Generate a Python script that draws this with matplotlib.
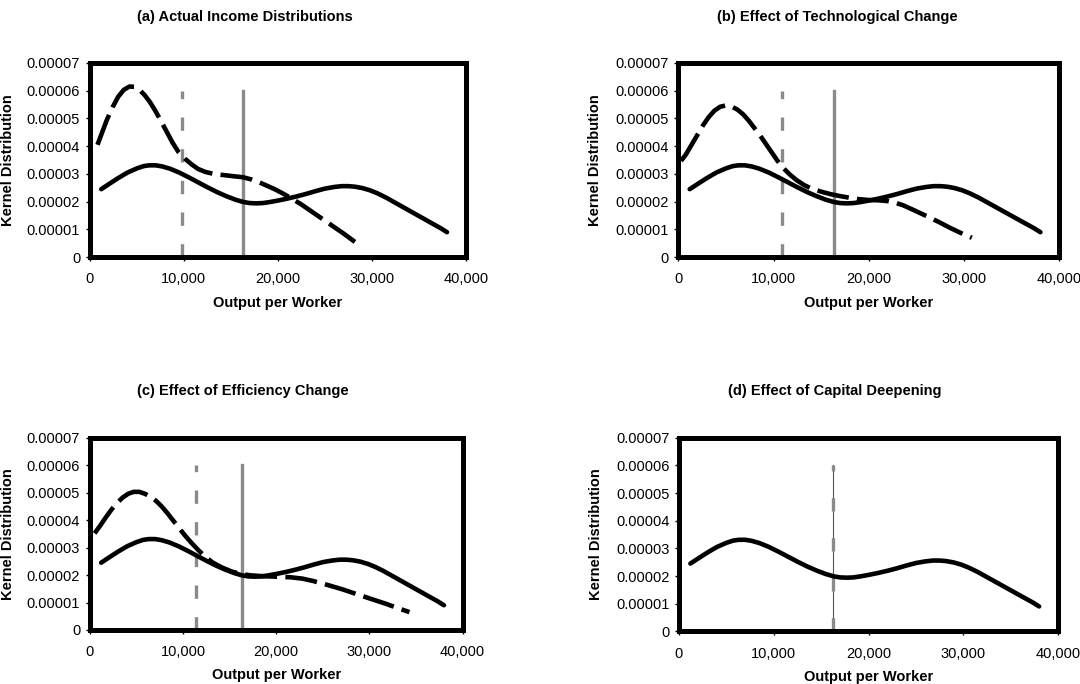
import numpy as np
import matplotlib.pyplot as plt
from matplotlib.ticker import FuncFormatter

plt.rcParams['font.family'] = ['Liberation Sans', 'DejaVu Sans']

# output per worker (thousands) and kernel density (x 1e-5)
final_x = [1.2, 2.0, 3.0, 4.0, 5.0, 5.7, 6.3, 7.0, 7.7, 8.5, 9.5, 10.5, 11.5, 12.5, 13.5,
           14.5, 15.5, 16.3, 17.0, 17.7, 18.4, 19.2, 20.0, 21.0, 22.0, 23.0, 24.0, 25.0,
           26.0, 26.8, 27.5, 28.2, 29.0, 29.8, 30.6, 31.5, 32.5, 33.5, 34.5, 35.5, 36.5,
           37.3, 38.0]
final_y = [2.45, 2.63, 2.85, 3.05, 3.20, 3.28, 3.31, 3.31, 3.27, 3.19, 3.05, 2.88, 2.70,
           2.52, 2.35, 2.20, 2.07, 1.99, 1.95, 1.94, 1.95, 1.99, 2.04, 2.11, 2.19, 2.28,
           2.38, 2.47, 2.53, 2.56, 2.56, 2.54, 2.49, 2.41, 2.30, 2.15, 1.96, 1.77, 1.58,
           1.39, 1.20, 1.05, 0.90]

actual_x = [0.8, 1.3, 1.8, 2.4, 3.0, 3.6, 4.2, 4.7, 5.2, 5.8, 6.4, 7.0, 7.6, 8.2, 8.8, 9.4,
            10.1, 10.8, 11.5, 12.3, 13.2, 14.2, 15.2, 16.3, 17.2, 18.0, 18.8, 19.6, 20.4,
            21.3, 22.5, 24.0, 25.5, 27.0, 28.2]
actual_y = [4.05, 4.50, 4.95, 5.40, 5.78, 6.03, 6.15, 6.14, 6.05, 5.85, 5.58, 5.25, 4.88,
            4.50, 4.12, 3.80, 3.55, 3.35, 3.18, 3.07, 3.00, 2.96, 2.92, 2.88, 2.80, 2.70,
            2.58, 2.46, 2.32, 2.15, 1.90, 1.55, 1.20, 0.85, 0.55]

tech_x = [0.3, 0.8, 1.4, 2.0, 2.6, 3.2, 3.8, 4.4, 5.0, 5.6, 6.2, 6.8, 7.4, 8.0, 8.6, 9.2,
          9.8, 10.4, 11.0, 11.7, 12.4, 13.2, 14.0, 15.0, 16.0, 17.0, 18.0, 19.0, 20.0,
          21.0, 22.0, 22.8, 23.6, 24.5, 25.5, 26.5, 27.5, 28.5, 29.6, 30.8]
tech_y = [3.47, 3.70, 4.05, 4.40, 4.75, 5.05, 5.28, 5.42, 5.47, 5.43, 5.32, 5.15, 4.92,
          4.65, 4.38, 4.08, 3.78, 3.48, 3.22, 2.98, 2.78, 2.60, 2.47, 2.36, 2.27, 2.20,
          2.14, 2.09, 2.06, 2.05, 2.02, 1.96, 1.87, 1.73, 1.57, 1.41, 1.24, 1.06, 0.88, 0.70]

eff_x = [0.5, 1.1, 1.7, 2.3, 2.9, 3.5, 4.1, 4.7, 5.3, 5.9, 6.5, 7.1, 7.7, 8.3, 8.9, 9.5,
         10.2, 10.9, 11.6, 12.4, 13.2, 14.2, 15.2, 16.2, 17.2, 18.5, 20.0, 21.5, 22.8,
         24.0, 25.5, 27.1, 28.5, 30.0, 31.8, 33.0, 34.3]
eff_y = [3.52, 3.80, 4.10, 4.38, 4.62, 4.82, 4.96, 5.03, 5.03, 4.96, 4.85, 4.70, 4.50,
         4.26, 4.00, 3.74, 3.44, 3.17, 2.92, 2.66, 2.45, 2.27, 2.13, 2.04, 1.99, 1.96,
         1.94, 1.92, 1.87, 1.78, 1.64, 1.48, 1.32, 1.15, 0.95, 0.80, 0.65]

final_mean = 16.3
start_means = [9.8, 10.9, 11.4, None]

titles = ['(a) Actual Income Distributions', '(b) Effect of Technological Change',
          '(c) Effect of Efficiency Change', '(d) Effect of Capital Deepening']
dashed_x = [actual_x, tech_x, eff_x, None]
dashed_y = [actual_y, tech_y, eff_y, None]

# axes boxes [left, bottom, width, height] and title centres (figure fraction)
boxes = [[0.0833, 0.624, 0.348, 0.284], [0.628, 0.624, 0.353, 0.284],
         [0.0833, 0.079, 0.345, 0.281], [0.6287, 0.077, 0.351, 0.283]]
title_pos = [(0.227, 0.975), (0.775, 0.975), (0.225, 0.428), (0.773, 0.428)]

fig = plt.figure(figsize=(10.8, 6.84), dpi=100)
grey = '#8a8a8a'
xfmt = FuncFormatter(lambda v, p: '0' if v == 0 else f'{int(v):,}')
yfmt = FuncFormatter(lambda v, p: '0' if abs(v) < 1e-12 else f'{v:.5f}')

for i in range(4):
    ax = fig.add_axes(boxes[i])
    sx = np.array(final_x) * 1000
    sy = np.array(final_y) * 1e-5
    if i == 3:
        ax.plot([final_mean * 1000] * 2, [0, 6e-5], color='#555555', lw=0.8, zorder=2)
        ax.plot([final_mean * 1000] * 2, [0, 6e-5], color=grey, lw=2.4,
                dashes=(4, 8), dash_capstyle='butt', zorder=2)
    else:
        ax.plot([start_means[i] * 1000] * 2, [0, 6e-5], color=grey, lw=2.4,
                dashes=(4, 5.5), dash_capstyle='butt', zorder=2)
        ax.plot([final_mean * 1000] * 2, [0, 6e-5], color=grey, lw=2.4, zorder=2)
        ax.plot(np.array(dashed_x[i]) * 1000, np.array(dashed_y[i]) * 1e-5, color='black',
                lw=3.3, dashes=(7, 1.8), solid_capstyle='round', zorder=3)
    ax.plot(sx, sy, color='black', lw=3.3, solid_joinstyle='round',
            solid_capstyle='round', zorder=3)

    ax.set_xlim(0, 40000)
    ax.set_ylim(0, 7e-5)
    ax.set_xticks([0, 10000, 20000, 30000, 40000])
    ax.set_yticks(np.arange(0, 7.5e-5, 1e-5))
    ax.xaxis.set_major_formatter(xfmt)
    ax.yaxis.set_major_formatter(yfmt)
    ax.tick_params(labelsize=10.5, length=3, width=1)
    ax.tick_params(axis='x', pad=8)
    ax.tick_params(axis='y', pad=4)
    for s in ax.spines.values():
        s.set_linewidth(3.6)
    ax.set_xlabel('Output per Worker', fontsize=10.5, fontweight='bold')
    ax.set_ylabel('Kernel Distribution', fontsize=10.5, fontweight='bold')
    ax.xaxis.set_label_coords(0.5, -0.2)
    ax.yaxis.set_label_coords(-0.2, 0.5)
    fig.text(title_pos[i][0], title_pos[i][1], titles[i], ha='center', va='center',
             fontsize=10.5, fontweight='bold')

fig.savefig('out.png', dpi=100)
